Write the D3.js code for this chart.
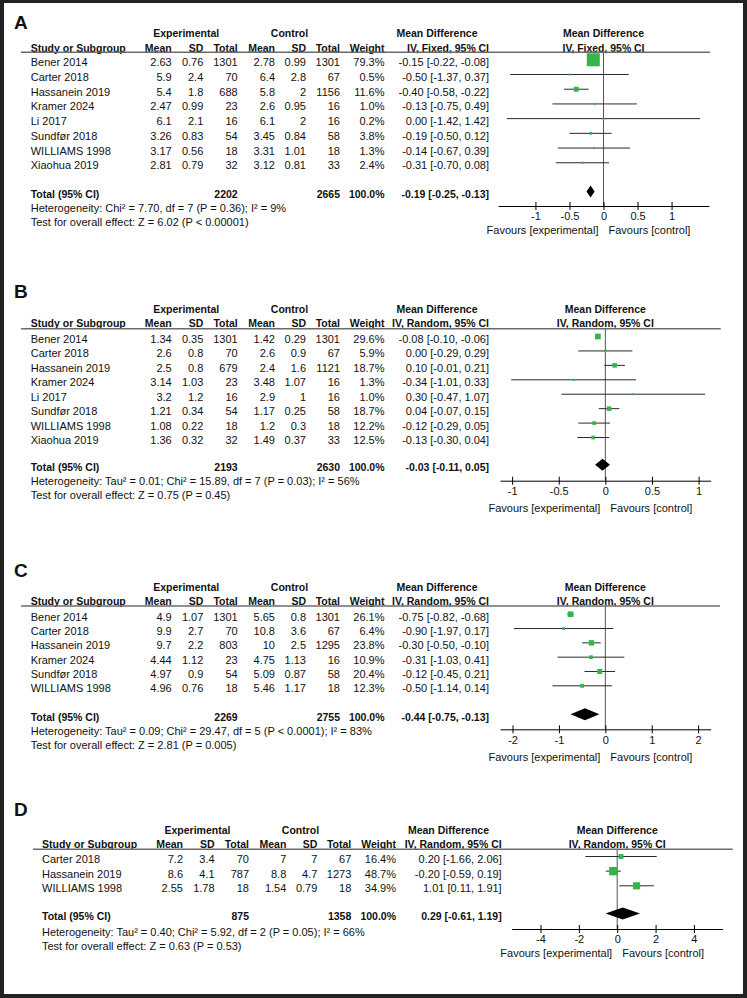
<!DOCTYPE html>
<html><head><meta charset="utf-8">
<script src="https://cdn.jsdelivr.net/npm/d3@7"></script>
<style>
html,body{margin:0;padding:0;background:#222;}
svg{display:block;}
text{font-family:"Liberation Sans",Arial,Helvetica,sans-serif;}
</style></head><body>
<svg id="chart" width="747" height="998"></svg>
<script>
// ---------- Panel A ----------
const studiesA = ["Bener 2014","Carter 2018","Hassanein 2019","Kramer 2024","Li 2017","Sundfør 2018","WILLIAMS 1998","Xiaohua 2019"];
const expMeanA = [2.63,5.9,5.4,2.47,6.1,3.26,3.17,2.81];
const expSDA   = [0.76,2.4,1.8,0.99,2.1,0.83,0.56,0.79];
const expNA    = [1301,70,688,23,16,54,18,32];
const ctlMeanA = [2.78,6.4,5.8,2.6,6.1,3.45,3.31,3.12];
const ctlSDA   = [0.99,2.8,2,0.95,2,0.84,1.01,0.81];
const ctlNA    = [1301,67,1156,16,16,58,18,33];
const weightA  = [79.3,0.5,11.6,1.0,0.2,3.8,1.3,2.4];
const mdA      = [-0.15,-0.50,-0.40,-0.13,0.00,-0.19,-0.14,-0.31];
const loA      = [-0.22,-1.37,-0.58,-0.75,-1.42,-0.50,-0.67,-0.70];
const hiA      = [-0.08,0.37,-0.22,0.49,1.42,0.12,0.39,0.08];
const totalA   = [2202,2665,-0.19,-0.25,-0.13];
const hetA  = "Heterogeneity: Chi² = 7.70, df = 7 (P = 0.36); I² = 9%";
const testA = "Test for overall effect: Z = 6.02 (P < 0.00001)";
const ticksA = [-1,-0.5,0,0.5,1];

// ---------- Panel B ----------
const studiesB = ["Bener 2014","Carter 2018","Hassanein 2019","Kramer 2024","Li 2017","Sundfør 2018","WILLIAMS 1998","Xiaohua 2019"];
const expMeanB = [1.34,2.6,2.5,3.14,3.2,1.21,1.08,1.36];
const expSDB   = [0.35,0.8,0.8,1.03,1.2,0.34,0.22,0.32];
const expNB    = [1301,70,679,23,16,54,18,32];
const ctlMeanB = [1.42,2.6,2.4,3.48,2.9,1.17,1.2,1.49];
const ctlSDB   = [0.29,0.9,1.6,1.07,1,0.25,0.3,0.37];
const ctlNB    = [1301,67,1121,16,16,58,18,33];
const weightB  = [29.6,5.9,18.7,1.3,1.0,18.7,12.2,12.5];
const mdB      = [-0.08,0.00,0.10,-0.34,0.30,0.04,-0.12,-0.13];
const loB      = [-0.10,-0.29,-0.01,-1.01,-0.47,-0.07,-0.29,-0.30];
const hiB      = [-0.06,0.29,0.21,0.33,1.07,0.15,0.05,0.04];
const totalB   = [2193,2630,-0.03,-0.11,0.05];
const hetB  = "Heterogeneity: Tau² = 0.01; Chi² = 15.89, df = 7 (P = 0.03); I² = 56%";
const testB = "Test for overall effect: Z = 0.75 (P = 0.45)";
const ticksB = [-1,-0.5,0,0.5,1];

// ---------- Panel C ----------
const studiesC = ["Bener 2014","Carter 2018","Hassanein 2019","Kramer 2024","Sundfør 2018","WILLIAMS 1998"];
const expMeanC = [4.9,9.9,9.7,4.44,4.97,4.96];
const expSDC   = [1.07,2.7,2.2,1.12,0.9,0.76];
const expNC    = [1301,70,803,23,54,18];
const ctlMeanC = [5.65,10.8,10,4.75,5.09,5.46];
const ctlSDC   = [0.8,3.6,2.5,1.13,0.87,1.17];
const ctlNC    = [1301,67,1295,16,58,18];
const weightC  = [26.1,6.4,23.8,10.9,20.4,12.3];
const mdC      = [-0.75,-0.90,-0.30,-0.31,-0.12,-0.50];
const loC      = [-0.82,-1.97,-0.50,-1.03,-0.45,-1.14];
const hiC      = [-0.68,0.17,-0.10,0.41,0.21,0.14];
const totalC   = [2269,2755,-0.44,-0.75,-0.13];
const hetC  = "Heterogeneity: Tau² = 0.09; Chi² = 29.47, df = 5 (P < 0.0001); I² = 83%";
const testC = "Test for overall effect: Z = 2.81 (P = 0.005)";
const ticksC = [-2,-1,0,1,2];

// ---------- Panel D ----------
const studiesD = ["Carter 2018","Hassanein 2019","WILLIAMS 1998"];
const expMeanD = [7.2,8.6,2.55];
const expSDD   = [3.4,4.1,1.78];
const expND    = [70,787,18];
const ctlMeanD = [7,8.8,1.54];
const ctlSDD   = [7,4.7,0.79];
const ctlND    = [67,1273,18];
const weightD  = [16.4,48.7,34.9];
const mdD      = [0.20,-0.20,1.01];
const loD      = [-1.66,-0.59,0.11];
const hiD      = [2.06,0.19,1.91];
const totalD   = [875,1358,0.29,-0.61,1.19];
const hetD  = "Heterogeneity: Tau² = 0.40; Chi² = 5.92, df = 2 (P = 0.05); I² = 66%";
const testD = "Test for overall effect: Z = 0.63 (P = 0.53)";
const ticksD = [-4,-2,0,2,4];

// ---------- layout ----------
const colsBase = {study:30.7, expMean:171.7, expSD:203.3, expN:237.7, ctlMean:275, ctlSD:306, ctlN:340, weight:384.5, ci:489, expHdr:186.2, ctlHdr:289.5, mdHdr:437};
const colsD = {study:42, expMean:183, expSD:214.6, expN:249, ctlMean:286.3, ctlSD:317.3, ctlN:351.3, weight:396, ci:501.7, expHdr:197.5, ctlHdr:300.5, mdHdr:448.5};

const panels = [
  {letter:"A", studies:studiesA, expMean:expMeanA, expSD:expSDA, expN:expNA, ctlMean:ctlMeanA, ctlSD:ctlSDA, ctlN:ctlNA, weight:weightA, md:mdA, lo:loA, hi:hiA, total:totalA, het:hetA, test:testA, ticks:ticksA, method:"IV, Fixed, 95% CI", methodW:82,
   L:{cols:colsBase, letterY:22, groupY:33.3, colY:47.7, ruleY:52.3, rowY0:62.3, rowStep:14.71, totalY:194, hetY:207.5, testY:221.7, axisY:206, favY:229.5, xRange:[498,709], domain:[-1.55,1.55], ruleX:[21,710], boxMax:14.6}},
  {letter:"B", studies:studiesB, expMean:expMeanB, expSD:expSDB, expN:expNB, ctlMean:ctlMeanB, ctlSD:ctlSDB, ctlN:ctlNB, weight:weightB, md:mdB, lo:loB, hi:hiB, total:totalB, het:hetB, test:testB, ticks:ticksB, method:"IV, Random, 95% CI", methodW:97,
   L:{cols:colsBase, letterY:290.7, groupY:309.3, colY:323.3, ruleY:328.7, rowY0:339, rowStep:14.43, totalY:467.3, hetY:481, testY:495, axisY:480.7, favY:508, xRange:[500,710.7], domain:[-1.13,1.13], ruleX:[21,720.7], boxMax:10.5}},
  {letter:"C", studies:studiesC, expMean:expMeanC, expSD:expSDC, expN:expNC, ctlMean:ctlMeanC, ctlSD:ctlSDC, ctlN:ctlNC, weight:weightC, md:mdC, lo:loC, hi:hiC, total:totalC, het:hetC, test:testC, ticks:ticksC, method:"IV, Random, 95% CI", methodW:97,
   L:{cols:colsBase, letterY:570, groupY:586.7, colY:600.7, ruleY:606, rowY0:616.7, rowStep:14.32, totalY:716.7, hetY:731, testY:745, axisY:729.3, favY:757, xRange:[500,710.7], domain:[-2.27,2.27], ruleX:[21,720], boxMax:11}},
  {letter:"D", studies:studiesD, expMean:expMeanD, expSD:expSDD, expN:expND, ctlMean:ctlMeanD, ctlSD:ctlSDD, ctlN:ctlND, weight:weightD, md:mdD, lo:loD, hi:hiD, total:totalD, het:hetD, test:testD, ticks:ticksD, method:"IV, Random, 95% CI", methodW:97,
   L:{cols:colsD, letterY:809, groupY:830, colY:844, ruleY:849.3, rowY0:859, rowStep:14.65, totalY:916, hetY:932, testY:945.7, axisY:929, favY:952.7, xRange:[511.7,722.7], domain:[-5.5,5.5], ruleX:[33,732.7], boxMax:12}}
];

const GREEN = "#34b44a";
const svg = d3.select("#chart");
svg.append("rect").attr("width",747).attr("height",998).attr("fill","#222");
svg.append("rect").attr("x",4).attr("y",3).attr("width",739).attr("height",991).attr("fill","#fff");

const f2 = v => v.toFixed(2);
const ciStr = (m,l,h) => `${f2(m)} [${f2(l)}, ${f2(h)}]`;

function drawPanel(p){
  const L = p.L, c = L.cols;
  const g = svg.append("g");
  const txt = (x,y,s,anchor,bold) => g.append("text")
      .attr("x",x).attr("y",y+4).attr("text-anchor",anchor||"start")
      .attr("font-size",bold?10.5:11).attr("font-weight",bold?"bold":"normal")
      .attr("fill","#111").text(s);
  const x = d3.scaleLinear().domain(L.domain).range(L.xRange);
  const mid = (L.xRange[0]+L.xRange[1])/2;
  const n = p.studies.length;
  const y = d3.scaleLinear().domain([0,n-1]).range([L.rowY0, L.rowY0+L.rowStep*(n-1)]);
  const box = d3.scaleSqrt().domain([0,100]).range([0,L.boxMax]);

  g.append("text").attr("x",14).attr("y",L.letterY+6.8).attr("font-size",19)
    .attr("font-weight","bold").attr("fill","#111").text(p.letter);

  txt(c.expHdr, L.groupY, "Experimental","middle",true);
  txt(c.ctlHdr, L.groupY, "Control","middle",true);
  txt(c.mdHdr, L.groupY, "Mean Difference","middle",true);
  txt(mid, L.groupY, "Mean Difference","middle",true);

  txt(c.study, L.colY, "Study or Subgroup","start",true);
  [["Mean",c.expMean],["SD",c.expSD],["Total",c.expN],["Mean",c.ctlMean],["SD",c.ctlSD],["Total",c.ctlN],["Weight",c.weight]]
    .forEach(([s,xx]) => txt(xx, L.colY, s, "end", true));
  txt(c.ci, L.colY, p.method, "end", true).attr("textLength", p.methodW).attr("lengthAdjust","spacingAndGlyphs");
  txt(mid, L.colY, p.method, "middle", true).attr("textLength", p.methodW).attr("lengthAdjust","spacingAndGlyphs");

  // zero line
  g.append("line").attr("x1",x(0)).attr("x2",x(0)).attr("y1",L.ruleY).attr("y2",L.axisY)
    .attr("stroke","#555").attr("stroke-width",1);
  // header rule
  g.append("line").attr("x1",L.ruleX[0]).attr("x2",L.ruleX[1]).attr("y1",L.ruleY).attr("y2",L.ruleY)
    .attr("stroke","#6b6b6b").attr("stroke-width",1.5);

  // rows
  p.studies.forEach((s,i) => {
    const yy = y(i);
    txt(c.study, yy, s);
    txt(c.expMean, yy, String(p.expMean[i]), "end");
    txt(c.expSD, yy, String(p.expSD[i]), "end");
    txt(c.expN, yy, String(p.expN[i]), "end");
    txt(c.ctlMean, yy, String(p.ctlMean[i]), "end");
    txt(c.ctlSD, yy, String(p.ctlSD[i]), "end");
    txt(c.ctlN, yy, String(p.ctlN[i]), "end");
    txt(c.weight, yy, p.weight[i].toFixed(1)+"%", "end");
    txt(c.ci, yy, ciStr(p.md[i],p.lo[i],p.hi[i]), "end");
    const my = yy - 2.5;
    g.append("line").attr("x1",x(p.lo[i])).attr("x2",x(p.hi[i])).attr("y1",my).attr("y2",my)
      .attr("stroke","#2a2a2a").attr("stroke-width",1);
    const sz = Math.max(2, box(p.weight[i]));
    g.append("rect").attr("x",x(p.md[i])-sz/2).attr("y",my-sz/2).attr("width",sz).attr("height",sz)
      .attr("fill",GREEN);
  });

  // total
  const t = p.total;
  txt(c.study, L.totalY, "Total (95% CI)", "start", true);
  txt(c.expN, L.totalY, String(t[0]), "end", true);
  txt(c.ctlN, L.totalY, String(t[1]), "end", true);
  txt(c.weight, L.totalY, "100.0%", "end", true);
  txt(c.ci, L.totalY, ciStr(t[2],t[3],t[4]), "end", true);
  const dy = L.totalY - 2.5;
  g.append("path").attr("d", d3.line()([[x(t[3]),dy],[x(t[2]),dy-6],[x(t[4]),dy],[x(t[2]),dy+6]]) + "Z")
    .attr("fill","#000");

  txt(c.study, L.hetY, p.het);
  txt(c.study, L.testY, p.test);

  // axis
  const ax = g.append("g").attr("transform",`translate(0,${L.axisY})`)
    .call(d3.axisBottom(x).tickValues(p.ticks).tickFormat(d => String(d)).tickSize(4).tickSizeOuter(0));
  ax.attr("font-size",11);
  ax.select(".domain").attr("stroke","#000");
  ax.selectAll(".tick line").attr("y1",-4).attr("y2",4).attr("stroke","#000");
  ax.selectAll(".tick text").attr("y",6.5).attr("dy","0.71em").attr("fill","#111");

  txt(x(0)-5, L.favY, "Favours [experimental]", "end");
  txt(x(0)+5, L.favY, "Favours [control]", "start");
}
panels.forEach(drawPanel);
</script></body></html>
